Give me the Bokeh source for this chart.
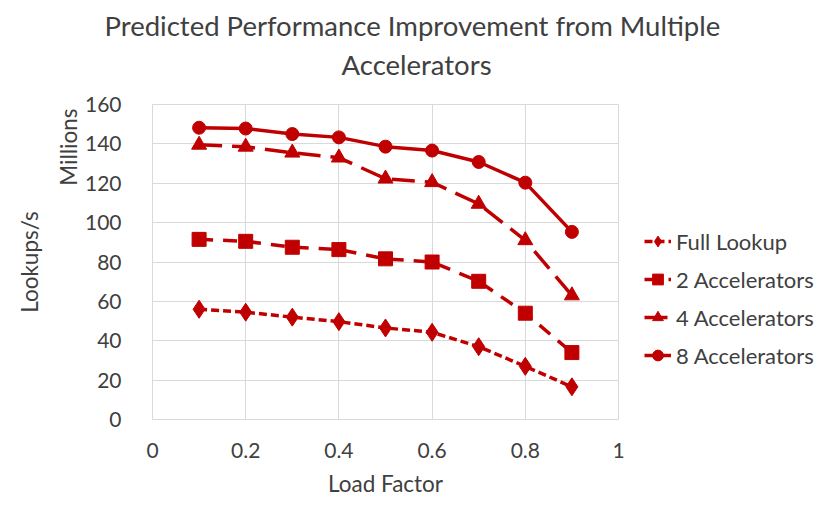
from bokeh.plotting import figure
from bokeh.models import Legend, LegendItem, FixedTicker, Range1d, Title
from bokeh.embed import file_html
from bokeh.resources import INLINE

load_factor = [0.1, 0.2, 0.3, 0.4, 0.5, 0.6, 0.7, 0.8, 0.9]
full_lookup = [56.0, 54.5, 52.0, 49.7, 46.5, 44.3, 37.0, 27.0, 16.6]
accel_2 = [91.5, 90.5, 87.5, 86.3, 81.6, 80.0, 70.2, 54.0, 34.0]
accel_4 = [139.5, 138.5, 135.5, 133.0, 122.3, 120.5, 109.5, 91.0, 63.0]
accel_8 = [148.2, 147.8, 145.0, 143.3, 138.6, 136.6, 130.8, 120.3, 95.3]
x_ticks = [0, 0.2, 0.4, 0.6, 0.8, 1.0]
y_ticks = [0, 20, 40, 60, 80, 100, 120, 140, 160]

RED = "#C00000"
TXT = "#404040"
GRID = "#d9d9d9"
FONT = "Lato"

p = figure(output_backend="svg", toolbar_location=None,
           x_range=Range1d(0, 1), y_range=Range1d(0, 160),
           frame_width=466, frame_height=315,
           min_border_left=152, min_border_right=190, min_border_top=104, min_border_bottom=79)
p.outline_line_color = GRID
p.background_fill_color = "white"
p.border_fill_color = "white"

for ax in (p.xaxis[0], p.yaxis[0]):
    ax.axis_line_color = GRID
    ax.major_tick_line_color = None
    ax.minor_tick_line_color = None
    ax.major_label_text_font = FONT
    ax.major_label_text_font_size = "21px"
    ax.major_label_text_color = TXT
p.xaxis.ticker = FixedTicker(ticks=x_ticks)
p.yaxis.ticker = FixedTicker(ticks=y_ticks)
p.xaxis.major_label_overrides = {0: "0", 0.2: "0.2", 0.4: "0.4", 0.6: "0.6", 0.8: "0.8", 1.0: "1"}
p.xaxis.major_label_standoff = 17
p.yaxis.major_label_standoff = 25
p.xaxis.axis_label = "Load Factor"
p.xaxis.axis_label_text_font = FONT
p.xaxis.axis_label_text_font_size = "22.5px"
p.xaxis.axis_label_text_font_style = "normal"
p.xaxis.axis_label_text_color = TXT
p.xaxis.axis_label_standoff = 9
p.xgrid.grid_line_color = GRID
p.ygrid.grid_line_color = GRID
p.xgrid.ticker = FixedTicker(ticks=x_ticks)
p.ygrid.ticker = FixedTicker(ticks=y_ticks)

series = [
    ("Full Lookup", full_lookup, "diamond", "8 4", 18),
    ("2 Accelerators", accel_2, "square", "14 10", 14),
    ("4 Accelerators", accel_4, "triangle", "23 10", 15),
    ("8 Accelerators", accel_8, "circle", "solid", 13),
]
items = []
for name, ys, marker, dash, size in series:
    l = p.line(load_factor, ys, line_color=RED, line_width=3.5, line_dash=dash)
    s = p.scatter(load_factor, ys, marker=marker, size=size, fill_color=RED, line_color=RED)
    items.append(LegendItem(label=name, renderers=[l, s]))

legend = Legend(items=items, location=(26, 45), orientation="vertical",
                label_text_font=FONT, label_text_font_size="22px", label_text_color=TXT,
                glyph_width=27, glyph_height=38, label_height=38, spacing=0, padding=0, margin=0,
                border_line_color=None, background_fill_alpha=0, label_standoff=5)
p.add_layout(legend, "right")

t2 = Title(text="Accelerators", align="left", offset=189, text_font=FONT,
           text_font_size="27.5px", text_font_style="normal", text_color=TXT, standoff=48)
p.add_layout(t2, "above")

p.title.text = "Predicted Performance Improvement from Multiple"
p.title.align = "left"
p.title.offset = -48
p.title.text_font = FONT
p.title.text_font_size = "27.5px"
p.title.text_font_style = "normal"
p.title.text_color = TXT
p.title.standoff = -40

t_mil = Title(text="Millions", align="right", offset=4, text_font=FONT,
              text_font_size="22.5px", text_font_style="normal", text_color=TXT, standoff=0)
p.add_layout(t_mil, "left")
t_look = Title(text="Lookups/s", align="center", text_font=FONT,
               text_font_size="22.5px", text_font_style="normal", text_color=TXT, standoff=20)
p.add_layout(t_look, "left")

open("out.html", "w").write(file_html(p, INLINE))
